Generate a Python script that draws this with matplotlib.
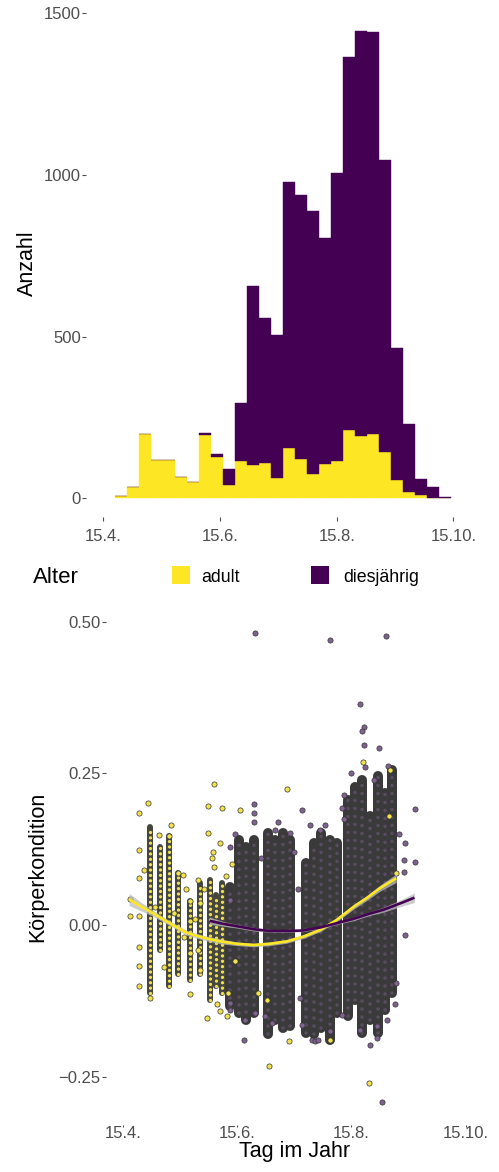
import numpy as np
import matplotlib
matplotlib.use("Agg")
import matplotlib.pyplot as plt
from matplotlib.patches import Rectangle

plt.rcParams['font.family'] = ['Liberation Sans', 'DejaVu Sans']

# ---- histogram: Anzahl per bin (28 bins, stacked) ----
bin_start = 111.3      # day of year of first bin edge
bin_width = 6.27
adult_counts = [7, 36, 199, 120, 120, 65, 50, 197, 128, 41, 115, 103, 110, 64,
                157, 122, 75, 105, 115, 211, 194, 198, 143, 57, 19, 11, 2, 0]
young_counts = [0, 0, 0, 0, 0, 0, 0, 6, 9, 51, 179, 554, 449, 442,
                823, 815, 814, 701, 891, 1153, 1251, 1243, 904, 407, 210, 48, 32, 3]

month_ticks = [105, 166, 227, 288]
month_labels = ['15.4.', '15.6.', '15.8.', '15.10.']

# ---- Körperkondition: dense columns of points (day, low, high) ----
adult_col_day = [119.5, 125.0, 129.5, 134.7, 140.8, 146.0, 151.5, 155.0, 158.0]
adult_col_lo = [-0.112, -0.041, -0.100, -0.080, -0.090, -0.080, -0.123, -0.100, -0.112]
adult_col_hi = [0.162, 0.129, 0.146, 0.085, 0.040, 0.070, 0.074, 0.050, 0.069]

young_col_day = [162.5, 167, 171, 175, 182.5, 186, 190.5, 194.5, 203, 207,
                 211, 215.5, 219.5, 225, 229, 232.5, 237, 241, 245, 248.5]
young_col_lo = [-0.134, -0.145, -0.156, -0.145, -0.18, -0.156, -0.17, -0.167, -0.178, -0.18,
                -0.17, -0.19, -0.145, -0.15, -0.123, -0.178, -0.156, -0.178, -0.14, -0.112]
young_col_hi = [0.063, 0.140, 0.129, 0.140, 0.151, 0.140, 0.151, 0.140, 0.102, 0.135,
                0.151, 0.140, 0.135, 0.206, 0.228, 0.239, 0.180, 0.245, 0.217, 0.256]

# single points
adult_pt_day = [113.9, 113.9, 113.9, 113.9, 113.9, 113.9, 108.9, 108.9, 118.7, 129.9,
                134.7, 137.4, 141, 141, 141, 141, 145.4, 146.3, 145.4, 146.3,
                153.9, 150.7, 157.9, 150.7, 157, 153.9, 167.6, 192.6, 149.8, 157,
                181.9, 193.5, 215.7, 233.1, 247.7, 246.8, 251, 177.4, 161.4, 182.8,
                236.4, 124.5, 131.0, 139.0, 116.5, 122.0, 127.0, 132.5, 137.5, 143.5,
                148.5, 152.5, 155.5, 160.0, 163.5, 165.0, 160.5, 153.0, 113.9, 119.5]
adult_pt_val = [0.184, 0.123, 0.077, 0.014, -0.036, -0.068, 0.014, 0.043, 0.201, 0.147,
                0.085, 0.083, 0.039, 0.006, -0.046, -0.114, 0.074, 0.036, -0.041, -0.074,
                0.233, 0.196, 0.192, 0.151, 0.135, 0.096, 0.190, 0.224, -0.153, -0.142,
                -0.123, -0.192, -0.189, 0.269, 0.256, 0.179, 0.085, -0.112, -0.112, -0.233,
                -0.26, 0.148, 0.165, 0.060, 0.090, 0.030, -0.070, 0.020, -0.020, 0.010,
                0.060, 0.110, -0.130, 0.080, 0.100, -0.060, -0.150, 0.120, -0.100, -0.120]

young_pt_day = [231.7, 233.5, 233.5, 241.5, 238.8, 222.8, 200.6, 221.9, 260.7, 174.8,
                174.8, 174.8, 186.3, 194.3, 205, 210.4, 255.8, 254.9, 260.7, 254.9,
                255.8, 162.3, 162.3, 170.3, 169.8, 175.6, 184.5, 200.6, 205.9, 207.7,
                215.7, 221.9, 231.4, 236.7, 240.6, 240.6, 246, 251, 162.3, 162.3,
                175.6, 215.6, 245.5, 243.5, 232.5, 246.5, 179.0, 198.5, 199.5, 188.0,
                213.0, 227.0, 252.5, 165.0, 181.0, 196.5, 209.0, 223.0, 234.5, 250.5]
young_pt_val = [0.365, 0.327, 0.297, 0.291, 0.239, 0.214, 0.190, 0.192, 0.191, 0.200,
                0.184, 0.169, 0.157, 0.151, 0.165, 0.157, 0.135, 0.107, 0.103, 0.088,
                -0.016, 0.129, 0.041, -0.156, -0.189, -0.145, -0.162, -0.165, -0.189, -0.192,
                -0.175, -0.148, -0.173, -0.197, -0.186, -0.167, -0.156, -0.096, -0.129, -0.140,
                0.481, 0.470, 0.476, -0.291, 0.320, 0.262, 0.110, 0.060, -0.120, 0.170,
                0.165, 0.250, 0.150, 0.150, -0.150, 0.120, -0.190, 0.175, 0.260, -0.130]

# smoothers with standard error band
adult_fit_day = [108.5, 115.0, 121.4, 130.0, 139.2, 148.0, 157.0, 166.0, 174.8, 183.5,
                 192.6, 201.5, 210.4, 219.0, 228.2, 235.0, 242.4, 250.9]
adult_fit = [0.042, 0.030, 0.019, 0.003, -0.013, -0.021, -0.027, -0.031, -0.033, -0.031,
             -0.027, -0.019, -0.008, 0.008, 0.030, 0.044, 0.061, 0.077]
adult_fit_se = [0.010, 0.007, 0.005, 0.004, 0.004, 0.004, 0.004, 0.003, 0.003, 0.003,
                0.003, 0.003, 0.003, 0.003, 0.004, 0.004, 0.005, 0.007]

young_fit_day = [151.3, 158.5, 165.9, 175.0, 183.7, 192.5, 201.5, 210.5, 219.3, 228.0,
                 237.1, 244.0, 250.0, 255.0, 260.6]
young_fit = [0.007, 0.002, -0.002, -0.007, -0.010, -0.010, -0.009, -0.004, 0.003, 0.010,
             0.019, 0.025, 0.032, 0.038, 0.045]
young_fit_se = [0.006, 0.004, 0.003, 0.003, 0.002, 0.002, 0.002, 0.002, 0.002, 0.003,
                0.003, 0.004, 0.005, 0.006, 0.008]

YELLOW = '#FDE725'
PURPLE = '#440154'
GREY_TXT = '#4d4d4d'
W, H = 499, 1172

fig = plt.figure(figsize=(W / 100, H / 100), dpi=100)


def px_axes(left, top, right, bottom):
    return fig.add_axes([left / W, 1 - bottom / H, (right - left) / W, (bottom - top) / H])


def style(ax, yout):
    for s in ax.spines.values():
        s.set_visible(False)
    ax.spines['left'].set_position(('outward', yout))
    ax.tick_params(axis='both', colors=GREY_TXT, labelcolor=GREY_TXT, labelsize=12,
                   length=2.6, width=0.8)
    ax.tick_params(axis='y', pad=1)
    ax.set_xticks(month_ticks)
    ax.set_xticklabels(month_labels)


# ---------- top: histogram ----------
ax1 = px_axes(98.5, 7.9, 467.9, 521.6)
edges = bin_start + bin_width * np.arange(len(adult_counts))
ax1.bar(edges, adult_counts, width=bin_width, align='edge', color=YELLOW,
        edgecolor=YELLOW, linewidth=0.3)
ax1.bar(edges, young_counts, width=bin_width, align='edge', bottom=adult_counts,
        color=PURPLE, edgecolor=PURPLE, linewidth=0.3)
ax1.set_xlim(102.5, 295.6)
ax1.set_ylim(-72, 1517)
ax1.set_yticks([0, 500, 1000, 1500])
style(ax1, 9)
ax1.spines['bottom'].set_position(('outward', -3))
ax1.tick_params(axis='x', pad=6)
ax1.set_ylabel('Anzahl', fontsize=15.5)
ax1.yaxis.set_label_coords(-0.164, 0.503)

# legend
fig.text(33 / W, 1 - 583.3 / H, 'Alter', fontsize=16, va='baseline', ha='left')
for x0, col, lab, tx in [(171.7, YELLOW, 'adult', 201), (310.5, PURPLE, 'diesjährig', 343)]:
    fig.patches.append(Rectangle((x0 / W, 1 - 584 / H), 18.5 / W, 18 / H,
                                 transform=fig.transFigure, facecolor=col, edgecolor='none'))
    fig.text(tx / W, 1 - 582 / H, lab, fontsize=12.8, va='baseline', ha='left')

# ---------- bottom: Körperkondition ----------
ax2 = px_axes(118, 609.5, 480, 1125.2)
ax2.vlines(young_col_day, young_col_lo, young_col_hi, color='#3a3a3a', linewidth=7.2,
           capstyle='round', zorder=1)
ax2.vlines(young_col_day, young_col_lo, young_col_hi, color='#7f6290', alpha=0.45,
           linewidth=2.6, linestyles=[(0, (0.01, 2.2))], capstyle='round', zorder=1.2)
ax2.vlines(adult_col_day, adult_col_lo, adult_col_hi, color='#454540', linewidth=4.3,
           capstyle='round', zorder=1)
ax2.vlines(adult_col_day, adult_col_lo, adult_col_hi, color='#f0df4a', linewidth=2.4,
           linestyles=[(0, (0.01, 1.6))], capstyle='round', zorder=1.5)
ax2.scatter(young_pt_day, young_pt_val, s=14, facecolor='#7f6290', edgecolor='#333333',
            linewidth=0.5, zorder=2)
ax2.scatter(adult_pt_day, adult_pt_val, s=14, facecolor='#f2e24c', edgecolor='#333333',
            linewidth=0.5, zorder=2)
for d, f, se, col in [(adult_fit_day, adult_fit, adult_fit_se, YELLOW),
                      (young_fit_day, young_fit, young_fit_se, PURPLE)]:
    f = np.array(f)
    se = np.array(se)
    ax2.fill_between(d, f - se, f + se, color='#bdbdbd', alpha=0.75, linewidth=0, zorder=3)
    ax2.plot(d, f, color=col, linewidth=1.9, zorder=4, solid_capstyle='butt')
ax2.set_xlim(102.5, 295.6)
ax2.set_ylim(-0.33, 0.52)
ax2.set_yticks([-0.25, 0, 0.25, 0.5])
ax2.set_yticklabels(['\u22120.25', '0.00', '0.25', '0.50'])
style(ax2, 9)
ax2.tick_params(axis='x', pad=-0.5, length=1.2)
ax2.set_xlabel('Tag im Jahr', fontsize=15.5)
ax2.xaxis.set_label_coords(0.489, -0.031)
ax2.set_ylabel('Körperkondition', fontsize=15.5)
ax2.yaxis.set_label_coords(-0.193, 0.501)

fig.savefig('out.png', dpi=100)
